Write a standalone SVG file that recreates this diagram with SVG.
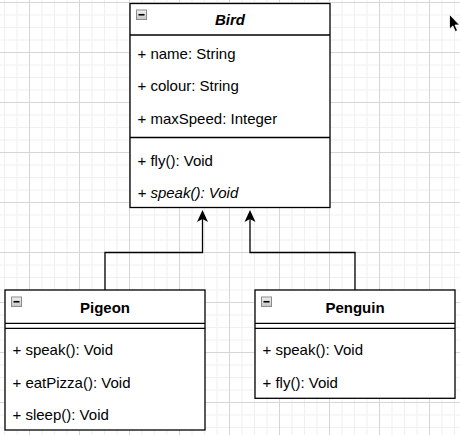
<svg xmlns="http://www.w3.org/2000/svg" width="460" height="435" viewBox="0 0 460 435">
  <defs>
    <style>
      .box { fill: #ffffff; stroke: #000000; stroke-width: 1.3; }
      .sep { stroke: #000000; stroke-width: 1.3; fill: none; }
      .edge { fill: none; stroke: #000000; stroke-width: 1.3; }
      text { font-family: "Liberation Sans", Arial, sans-serif; font-size: 15px; fill: #000000; }
      .title { font-weight: bold; text-anchor: middle; }
      .abstract { font-style: italic; }
      .tog { fill: url(#togFill); stroke: #8c8c8c; stroke-width: 1; }
      .tog-bar { stroke: #000000; stroke-width: 1.6; }
    </style>
    <linearGradient id="togFill" x1="0" y1="0" x2="0" y2="1">
      <stop offset="0" stop-color="#f2f2f2"/>
      <stop offset="1" stop-color="#c4c4c4"/>
    </linearGradient>
    <pattern id="grid" x="29" y="2" width="50" height="50" patternUnits="userSpaceOnUse">
      <rect x="12.5" y="0" width="1" height="50" fill="#f0f0f0"/>
      <rect x="25" y="0" width="1" height="50" fill="#f0f0f0"/>
      <rect x="37.5" y="0" width="1" height="50" fill="#f0f0f0"/>
      <rect x="0" y="12.5" width="50" height="1" fill="#f0f0f0"/>
      <rect x="0" y="25" width="50" height="1" fill="#f0f0f0"/>
      <rect x="0" y="37.5" width="50" height="1" fill="#f0f0f0"/>
      <rect x="0" y="0" width="1" height="50" fill="#d6d6d6"/>
      <rect x="0" y="0" width="50" height="1" fill="#d6d6d6"/>
    </pattern>
    <marker id="inherit" viewBox="0 0 12 12" markerWidth="12" markerHeight="12" markerUnits="userSpaceOnUse" refX="3" refY="6" orient="auto">
      <path d="M12,6 L0,0.5 L3,6 L0,11.5 Z" fill="#000000"/>
    </marker>
  </defs>

  <!-- canvas background with grid -->
  <rect x="0" y="0" width="460" height="435" fill="#ffffff"/>
  <rect x="0" y="0" width="460" height="435" fill="url(#grid)"/>

  <!-- generalization connectors -->
  <g id="connectors">
    <polyline class="edge" points="105,290 105,252.5 202.5,252.5 202.5,219" marker-end="url(#inherit)"/>
    <polyline class="edge" points="355,290 355,252.5 250,252.5 250,219" marker-end="url(#inherit)"/>
  </g>

  <!-- abstract class Bird -->
  <g id="bird">
    <rect class="box" x="130" y="3.5" width="200" height="204"/>
    <line class="sep" x1="130" y1="35" x2="330" y2="35"/>
    <line class="sep" x1="130" y1="137.5" x2="330" y2="137.5"/>
    <rect class="tog" x="136.5" y="10" width="10" height="9.5"/>
    <line class="tog-bar" x1="138.5" y1="14.75" x2="144.5" y2="14.75"/>
    <text class="title abstract" x="230" y="25">Bird</text>
    <text x="137.5" y="58.5">+ name: String</text>
    <text x="137.5" y="91">+ colour: String</text>
    <text x="137.5" y="123.5">+ maxSpeed: Integer</text>
    <text x="137.5" y="165.5">+ fly(): Void</text>
    <text class="abstract" x="137.5" y="197.5">+ speak(): Void</text>
  </g>

  <!-- class Pigeon -->
  <g id="pigeon">
    <rect class="box" x="5" y="290" width="200" height="140"/>
    <line class="sep" x1="5" y1="323.3" x2="205" y2="323.3"/>
    <line class="sep" x1="5" y1="328.3" x2="205" y2="328.3"/>
    <rect class="tog" x="11.5" y="297" width="10" height="9.5"/>
    <line class="tog-bar" x1="13.5" y1="301.75" x2="19.5" y2="301.75"/>
    <text class="title" x="105" y="313.3">Pigeon</text>
    <text x="12.5" y="355">+ speak(): Void</text>
    <text x="12.5" y="388">+ eatPizza(): Void</text>
    <text x="12.5" y="420">+ sleep(): Void</text>
  </g>

  <!-- class Penguin -->
  <g id="penguin">
    <rect class="box" x="255" y="290" width="200" height="108.3"/>
    <line class="sep" x1="255" y1="323.3" x2="455" y2="323.3"/>
    <line class="sep" x1="255" y1="328.3" x2="455" y2="328.3"/>
    <rect class="tog" x="261.5" y="297" width="10" height="9.5"/>
    <line class="tog-bar" x1="263.5" y1="301.75" x2="269.5" y2="301.75"/>
    <text class="title" x="355" y="313.3">Penguin</text>
    <text x="262.5" y="355">+ speak(): Void</text>
    <text x="262.5" y="388">+ fly(): Void</text>
  </g>

  <!-- pointer -->
  <path d="M449.5,14.5 L449.5,29 L452.8,26 L455.3,31.5 L457.5,30.5 L455,25 L459.5,25 Z" fill="#000000" stroke="#ffffff" stroke-width="0.8"/>
</svg>
